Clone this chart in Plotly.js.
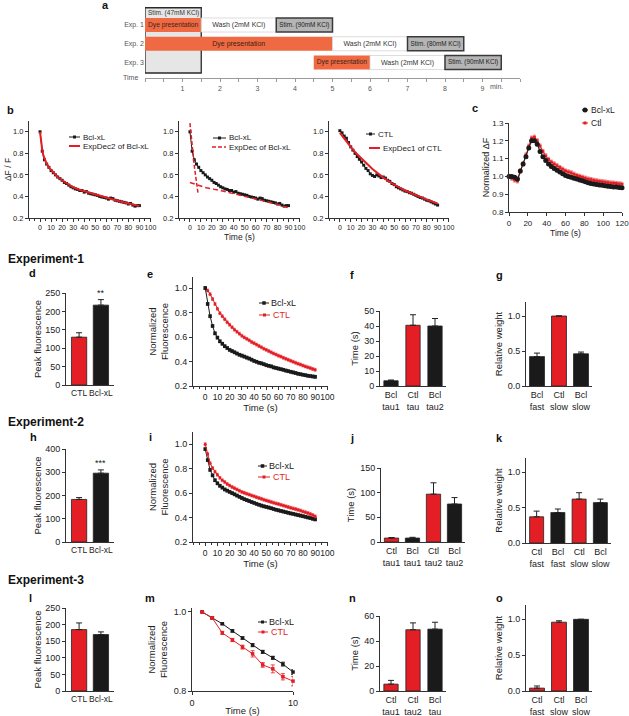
<!DOCTYPE html>
<html><head><meta charset="utf-8">
<script src="https://cdn.plot.ly/plotly-3.0.1.min.js"></script>
<style>html,body{margin:0;padding:0;background:#fff}#chart{width:629px;height:716px}</style>
</head><body><div id="chart"></div>
<script>
// ================= DATA =================
// a: protocol timeline (minutes)
const expRows = ['Exp. 1', 'Exp. 2', 'Exp. 3'];
const dyeStart = [0, 0, 4.5];
const dyeDur = [1.5, 5, 1.5];
const washStart = [1.5, 5, 6];
const washDur = [2, 2, 2];
const stimStart = [3.5, 7, 8];
const stimDur = [1.5, 1.5, 1.5];
const dyeLabel = 'Dye presentation';
const washLabel = 'Wash (2mM KCl)';
const stimLabels = ['Stim. (90mM KCl)', 'Stim. (80mM KCl)', 'Stim. (90mM KCl)'];
const stim47 = [0, 1.5];
const stim47Label = 'Stim. (47mM KCl)';
const timeTicks = [0, 1, 2, 3, 4, 5, 6, 7, 8, 9];
const timeTickText = ['', '1', '2', '3', '4', '5', '6', '7', '8', '9'];

// b: decay traces (s)
const bT = [0,2,4,6,8,10,12,14,16,18,20,22,24,26,28,30,32,34,36,38,40,42,44,46,48,50,52,54,56,58,60,62,64,66,68,70,72,74,76,78,80,82,84,86,88,90];
const bBcl = [1.00,0.82,0.74,0.70,0.67,0.64,0.62,0.60,0.58,0.565,0.55,0.53,0.52,0.505,0.49,0.48,0.47,0.465,0.455,0.455,0.44,0.445,0.43,0.425,0.42,0.415,0.41,0.40,0.395,0.39,0.385,0.375,0.385,0.38,0.365,0.36,0.355,0.35,0.345,0.34,0.33,0.335,0.32,0.31,0.315,0.315];
const bCtl = [1.01,0.99,0.96,0.94,0.90,0.86,0.83,0.80,0.77,0.745,0.72,0.69,0.66,0.64,0.61,0.595,0.585,0.60,0.59,0.575,0.58,0.57,0.55,0.54,0.52,0.51,0.49,0.48,0.47,0.46,0.45,0.445,0.435,0.43,0.42,0.41,0.40,0.39,0.385,0.375,0.365,0.36,0.35,0.34,0.33,0.32];
const bFit2T = [0,1,2,3,4,6,8,10,13,16,20,25,30,35,40,50,60,70,80,90];
const bFit2 = [1.0,0.90,0.83,0.78,0.75,0.705,0.67,0.645,0.61,0.58,0.55,0.515,0.485,0.465,0.45,0.415,0.385,0.36,0.335,0.31];
const bFastT = [0, 2, 4, 6, 7.5];
const bFast = [1.08, 0.86, 0.68, 0.53, 0.42];
const bSlowT = [0, 15, 30, 45, 60, 75, 90];
const bSlow = [0.53, 0.48, 0.45, 0.415, 0.38, 0.34, 0.295];
const bFit1T = [0,5,10,15,20,25,30,40,50,60,70,80,90];
const bFit1 = [0.99,0.92,0.86,0.80,0.75,0.70,0.655,0.575,0.51,0.455,0.41,0.37,0.335];

// c: normalized dF (s)
const cT = [0,3,6,9,12,15,18,21,24,27,30,33,36,39,42,45,48,51,54,57,60,63,66,69,72,75,78,81,84,87,90,93,96,99,102,105,108,111,114,117,120];
const cBcl = [1.0,1.0,0.995,0.985,1.03,1.07,1.11,1.16,1.20,1.20,1.18,1.14,1.11,1.09,1.07,1.055,1.045,1.035,1.025,1.015,1.005,1.0,0.995,0.99,0.985,0.98,0.975,0.97,0.965,0.96,0.958,0.955,0.952,0.95,0.948,0.945,0.943,0.94,0.94,0.938,0.936];
const cCtl = [1.0,0.99,0.98,0.975,1.03,1.07,1.12,1.17,1.215,1.22,1.20,1.17,1.14,1.115,1.095,1.08,1.07,1.06,1.05,1.04,1.03,1.025,1.02,1.012,1.005,1.0,0.995,0.99,0.985,0.982,0.978,0.975,0.972,0.97,0.968,0.965,0.963,0.962,0.96,0.958,0.957];
const cErrBcl = 0.008, cErrCtl = 0.012;

// e: Experiment-1 normalized fluorescence
const eT = bT;
const eBcl = [1.0,0.87,0.77,0.69,0.63,0.595,0.565,0.545,0.525,0.51,0.495,0.485,0.475,0.465,0.455,0.448,0.44,0.432,0.424,0.415,0.405,0.398,0.39,0.385,0.378,0.37,0.365,0.36,0.352,0.347,0.342,0.337,0.332,0.326,0.321,0.316,0.311,0.306,0.30,0.296,0.292,0.288,0.284,0.281,0.278,0.275];
const eCtl = [1.0,0.98,0.95,0.91,0.87,0.83,0.795,0.77,0.745,0.72,0.70,0.68,0.66,0.643,0.627,0.61,0.597,0.585,0.573,0.56,0.55,0.538,0.527,0.516,0.505,0.495,0.485,0.475,0.466,0.457,0.448,0.44,0.43,0.422,0.414,0.406,0.398,0.39,0.382,0.375,0.367,0.36,0.353,0.346,0.339,0.332];
const eErr = 0.012;

// i: Experiment-2 normalized fluorescence
const iT = bT;
const iBcl = [0.96,0.87,0.79,0.745,0.705,0.68,0.66,0.645,0.63,0.62,0.61,0.60,0.59,0.58,0.57,0.56,0.55,0.543,0.535,0.527,0.52,0.512,0.505,0.498,0.492,0.487,0.482,0.476,0.47,0.464,0.459,0.454,0.449,0.444,0.439,0.434,0.43,0.425,0.42,0.416,0.411,0.406,0.401,0.396,0.39,0.385];
const iCtl = [1.0,0.92,0.845,0.805,0.775,0.75,0.725,0.705,0.69,0.675,0.662,0.65,0.64,0.63,0.62,0.61,0.602,0.595,0.588,0.581,0.574,0.567,0.56,0.553,0.546,0.54,0.534,0.528,0.522,0.516,0.51,0.504,0.498,0.492,0.486,0.48,0.475,0.469,0.463,0.457,0.45,0.444,0.437,0.43,0.42,0.41];
const iErr = 0.012;

// m: Experiment-3 normalized fluorescence
const mT = [1,2,3,4,5,6,7,8,9,10];
const mBcl = [1.0,0.985,0.970,0.952,0.934,0.916,0.899,0.884,0.868,0.848];
const mBclErr = [0,0.002,0.002,0.003,0.003,0.004,0.004,0.004,0.005,0.006];
const mCtl = [1.0,0.985,0.947,0.929,0.911,0.894,0.866,0.856,0.836,0.825];
const mCtlErr = [0,0.003,0.004,0.004,0.005,0.008,0.006,0.010,0.008,0.012];

// bar panels
const dCats = ['CTL', 'Bcl-xL'];       const dVals = [130, 217];   const dErr = [12, 15];
const fCats = ['Bcl<br>tau1', 'Ctl<br>tau', 'Bcl<br>tau2'];  const fVals = [3.5, 40.5, 40];  const fErr = [0.5, 7, 5];
const gCats = ['Bcl<br>fast', 'Ctl<br>slow', 'Bcl<br>slow']; const gVals = [0.42, 1.0, 0.46]; const gErr = [0.05, 0, 0.025];
const hCats = ['CTL', 'Bcl-xL'];       const hVals = [183, 296];   const hErr = [8, 14];
const jCats = ['Ctl<br>tau1', 'Bcl<br>tau1', 'Ctl<br>tau2', 'Bcl<br>tau2']; const jVals = [8, 8, 97, 77]; const jErr = [1, 1.5, 23, 13];
const kCats = ['Ctl<br>fast', 'Bcl<br>fast', 'Ctl<br>slow', 'Bcl<br>slow']; const kVals = [0.37, 0.43, 0.62, 0.57]; const kErr = [0.08, 0.05, 0.09, 0.05];
const lCats = ['CTL', 'Bcl-xL'];       const lVals = [185, 170];   const lErr = [20, 8];
const nCats = ['Ctl<br>tau1', 'Ctl<br>tau2', 'Bcl<br>tau'];  const nVals = [5.5, 49, 49.5]; const nErr = [3, 5.5, 5.5];
const oCats = ['Ctl<br>fast', 'Ctl<br>slow', 'Bcl<br>slow']; const oVals = [0.04, 0.96, 1.0]; const oErr = [0.03, 0.02, 0];
const dStars = '**', hStars = '***';

// ================= STYLE / HELPERS =================
const W = 629, H = 716;
const F = 'Liberation Sans, Arial, Helvetica, sans-serif';
const RED = '#e31e24', BLK = '#1a1a1a', ORANGE = '#ef6942';
const xd = (a, b) => [a / W, b / W];
const yd = (top, bot) => [1 - bot / H, 1 - top / H];
const px = x => x / W, py = y => 1 - y / H;
const colorOf = c => /^c/i.test(c) ? RED : BLK;

const base = {showgrid:false, zeroline:false, showline:true, linecolor:'#333', linewidth:1,
  ticks:'outside', ticklen:3, tickwidth:1, tickcolor:'#333', automargin:false, fixedrange:true,
  tickangle:0, ticklabeloverflow:'allow'};
function ax(o) {
  const r = Object.assign({}, base, o);
  r.tickfont = Object.assign({family:F, size:9, color:'#222'}, o.tickfont || {});
  if (o.title) r.title = Object.assign({font:{family:F, size:9.5, color:'#222'}}, o.title);
  return r;
}

function bar(cats, vals, errs, xa, ya, width) {
  return {type:'bar', x:cats, y:vals, xaxis:xa, yaxis:ya, width:width,
    marker:{color:cats.map(colorOf), line:{color:'#222', width:0.8}},
    error_y:{type:'data', symmetric:false, array:errs, arrayminus:errs.map(() => 0), color:'#222', thickness:1, width:3},
    hoverinfo:'skip', cliponaxis:false};
}
function dataLine(x, y, xa, ya, color, sym, size, err) {
  const t = {type:'scatter', mode:'lines+markers', x:x, y:y, xaxis:xa, yaxis:ya,
    line:{color:color, width:1}, marker:{symbol:sym, size:size, color:color}, hoverinfo:'skip', cliponaxis:false};
  if (err !== undefined) {
    t.error_y = Array.isArray(err) ? {type:'data', array:err, color:color, thickness:0.8, width:2}
                                   : {type:'constant', value:err, color:color, thickness:0.5, width:1.5};
  }
  return t;
}
function fitLine(x, y, xa, ya, width, dash) {
  return {type:'scatter', mode:'lines', x:x, y:y, xaxis:xa, yaxis:ya,
    line:{color:RED, width:width, dash:dash || 'solid'}, hoverinfo:'skip', cliponaxis:false};
}

// ================= TRACES =================
const traces = [
  // a: timeline
  {type:'bar', orientation:'h', y:expRows, x:dyeDur, base:dyeStart, xaxis:'x', yaxis:'y', width:0.75,
   marker:{color:ORANGE, line:{color:ORANGE, width:0}}, text:expRows.map(() => dyeLabel),
   textposition:'inside', insidetextanchor:'middle', textangle:0, textfont:{family:F, size:7, color:'#3b2418'}, hoverinfo:'skip'},
  {type:'bar', orientation:'h', y:expRows, x:washDur, base:washStart, xaxis:'x', yaxis:'y', width:0.75,
   marker:{color:'#ffffff', line:{color:'#d4d4d4', width:0.8}}, text:expRows.map(() => washLabel),
   textposition:'inside', insidetextanchor:'middle', textangle:0, textfont:{family:F, size:7, color:'#333'}, hoverinfo:'skip'},
  {type:'bar', orientation:'h', y:expRows, x:stimDur, base:stimStart, xaxis:'x', yaxis:'y', width:0.75,
   marker:{color:'#b5b5b5', line:{color:'#3a3a3a', width:1.5}}, text:stimLabels,
   textposition:'inside', insidetextanchor:'middle', textangle:0, textfont:{family:F, size:7, color:'#222'}, hoverinfo:'skip'},

  // b
  dataLine(bT, bBcl, 'x2', 'y2', BLK, 'square', 3),
  fitLine(bFit2T, bFit2, 'x2', 'y2', 2),
  dataLine(bT, bBcl, 'x3', 'y3', BLK, 'square', 3),
  fitLine(bFastT, bFast, 'x3', 'y3', 1.5, '4px,2px'),
  fitLine(bSlowT, bSlow, 'x3', 'y3', 1.5, '5px,3px'),
  dataLine(bT, bCtl, 'x4', 'y4', BLK, 'square', 3),
  fitLine(bFit1T, bFit1, 'x4', 'y4', 2),

  // c
  dataLine(cT, cCtl, 'x5', 'y5', RED, 'square', 3, cErrCtl),
  dataLine(cT, cBcl, 'x5', 'y5', BLK, 'circle', 5, cErrBcl),

  // d, e, f, g
  bar(dCats, dVals, dErr, 'x6', 'y6', 0.7),
  dataLine(eT, eCtl, 'x7', 'y7', RED, 'circle', 3, eErr),
  dataLine(eT, eBcl, 'x7', 'y7', BLK, 'square', 3.5, eErr),
  bar(fCats, fVals, fErr, 'x8', 'y8', 0.65),
  bar(gCats, gVals, gErr, 'x9', 'y9', 0.68),

  // h, i, j, k
  bar(hCats, hVals, hErr, 'x10', 'y10', 0.7),
  dataLine(iT, iBcl, 'x11', 'y11', BLK, 'square', 3.5, iErr),
  dataLine(iT, iCtl, 'x11', 'y11', RED, 'circle', 3, iErr),
  bar(jCats, jVals, jErr, 'x12', 'y12', 0.68),
  bar(kCats, kVals, kErr, 'x13', 'y13', 0.66),

  // l, m, n, o
  bar(lCats, lVals, lErr, 'x14', 'y14', 0.7),
  dataLine(mT, mBcl, 'x15', 'y15', BLK, 'square', 3.5, mBclErr),
  dataLine(mT, mCtl, 'x15', 'y15', RED, 'square', 3.5, mCtlErr),
  bar(nCats, nVals, nErr, 'x16', 'y16', 0.65),
  bar(oCats, oVals, oErr, 'x17', 'y17', 0.68)
];

// ================= LAYOUT =================
const tenTicks = [0,10,20,30,40,50,60,70,80,90,100];
const peakX = {type:'category', range:[-0.6,1.6], ticks:'', tickfont:{size:8.5}};
const layout = {
  width: W, height: H, margin:{l:0, r:0, t:0, b:0},
  paper_bgcolor:'#fff', plot_bgcolor:'rgba(0,0,0,0)',
  showlegend:false, barmode:'overlay', font:{family:F, color:'#222'},
  uniformtext:{mode:'show', minsize:7},

  // a
  xaxis: ax({domain:xd(145,520), range:[0,10], anchor:'free', position:py(78),
    linecolor:'#9a9a9a', tickcolor:'#9a9a9a', linewidth:1.2, tickvals:timeTicks, ticktext:timeTickText,
    tickfont:{size:7, color:'#555'}, minor:{dtick:0.5, tick0:0, ticks:'outside', ticklen:3, tickcolor:'#9a9a9a'}}),
  yaxis: ax({domain:yd(7.75,73), type:'category', categoryorder:'array', categoryarray:expRows,
    range:[2.56,-0.92], anchor:'x', showline:false, ticks:'', tickfont:{size:7, color:'#555'}}),

  // b
  xaxis2: ax({domain:xd(29,151), range:[-10,100.5], anchor:'y2', tickvals:tenTicks, tickfont:{size:7},
    minor:{dtick:5, tick0:0, ticks:'outside', ticklen:2, tickcolor:'#333'}}),
  yaxis2: ax({domain:yd(121,218), range:[0.2,1.1], anchor:'x2', tickvals:[0.2,0.4,0.6,0.8,1.0], tickformat:'.1f',
    tickfont:{size:7.5}, title:{text:'ΔF / F', standoff:0, font:{family:F, size:8.5, color:'#222'}}}),
  xaxis3: ax({domain:xd(179,300), range:[-10,100.5], anchor:'y3', tickvals:tenTicks, tickfont:{size:7},
    minor:{dtick:5, tick0:0, ticks:'outside', ticklen:2, tickcolor:'#333'},
    title:{text:'Time (s)', standoff:3, font:{family:F, size:8.5, color:'#222'}}}),
  yaxis3: ax({domain:yd(121,218), range:[0.2,1.1], anchor:'x3', tickvals:[0.2,0.4,0.6,0.8,1.0], tickformat:'.1f', tickfont:{size:7.5}}),
  xaxis4: ax({domain:xd(329,449), range:[-10,100.5], anchor:'y4', tickvals:tenTicks, tickfont:{size:7},
    minor:{dtick:5, tick0:0, ticks:'outside', ticklen:2, tickcolor:'#333'}}),
  yaxis4: ax({domain:yd(121,218), range:[0.2,1.1], anchor:'x4', tickvals:[0.2,0.4,0.6,0.8,1.0], tickformat:'.1f', tickfont:{size:7.5}}),

  // c
  xaxis5: ax({domain:xd(509,622), range:[0,120], anchor:'y5', tickvals:[0,20,40,60,80,100,120], tickfont:{size:8},
    title:{text:'Time (s)', standoff:3, font:{family:F, size:8.5, color:'#222'}}}),
  yaxis5: ax({domain:yd(123,212), range:[0.8,1.3], anchor:'x5', dtick:0.1, tick0:0.8, tickformat:'.1f', tickfont:{size:8},
    title:{text:'Normalized ΔF', standoff:1, font:{family:F, size:9, color:'#222'}}}),

  // d
  xaxis6: ax(Object.assign({domain:xd(66,114), anchor:'y6'}, peakX)),
  yaxis6: ax({domain:yd(293,385), range:[0,250], anchor:'x6', dtick:50, title:{text:'Peak fluorescence', standoff:1}}),
  // e
  xaxis7: ax({domain:xd(193,328), range:[-10,100.5], anchor:'y7', tickvals:tenTicks, tickfont:{size:8.5},
    minor:{dtick:5, tick0:0, ticks:'outside', ticklen:2, tickcolor:'#333'},
    title:{text:'Time (s)', standoff:3}}),
  yaxis7: ax({domain:yd(277,386), range:[0.2,1.09], anchor:'x7', tickvals:[0.2,0.4,0.6,0.8,1.0], tickformat:'.1f',
    title:{text:'Normalized<br>Fluorescence', standoff:4}}),
  // f
  xaxis8: ax({domain:xd(380,446), type:'category', range:[-0.5,2.5], anchor:'y8', ticks:''}),
  yaxis8: ax({domain:yd(311,386), range:[0,50], anchor:'x8', dtick:10, title:{text:'Time (s)', standoff:3}}),
  // g
  xaxis9: ax({domain:xd(526,592), type:'category', range:[-0.5,2.5], anchor:'y9', ticks:''}),
  yaxis9: ax({domain:yd(302,386), range:[0,1.2], anchor:'x9', tickvals:[0,0.5,1.0], tickformat:'.1f', title:{text:'Relative weight', standoff:3}}),

  // h
  xaxis10: ax(Object.assign({domain:xd(66,114), anchor:'y10'}, peakX)),
  yaxis10: ax({domain:yd(449,542), range:[0,400], anchor:'x10', dtick:100, title:{text:'Peak fluorescence', standoff:1}}),
  // i
  xaxis11: ax({domain:xd(193,328), range:[-10,100.5], anchor:'y11', tickvals:tenTicks, tickfont:{size:8.5},
    minor:{dtick:5, tick0:0, ticks:'outside', ticklen:2, tickcolor:'#333'},
    title:{text:'Time (s)', standoff:3}}),
  yaxis11: ax({domain:yd(432,542), range:[0.2,1.1], anchor:'x11', tickvals:[0.2,0.4,0.6,0.8,1.0], tickformat:'.1f',
    title:{text:'Normalized<br>Fluorescence', standoff:4}}),
  // j
  xaxis12: ax({domain:xd(381,465), type:'category', range:[-0.5,3.5], anchor:'y12', ticks:''}),
  yaxis12: ax({domain:yd(468,542), range:[0,150], anchor:'x12', dtick:50, title:{text:'Time (s)', standoff:3}}),
  // k
  xaxis13: ax({domain:xd(526,611), type:'category', range:[-0.5,3.5], anchor:'y13', ticks:''}),
  yaxis13: ax({domain:yd(458,543), range:[0,1.2], anchor:'x13', tickvals:[0,0.5,1.0], tickformat:'.1f', title:{text:'Relative weight', standoff:3}}),

  // l
  xaxis14: ax(Object.assign({domain:xd(66,114), anchor:'y14'}, peakX)),
  yaxis14: ax({domain:yd(608,691), range:[0,250], anchor:'x14', dtick:50, title:{text:'Peak fluorescence', standoff:1}}),
  // m
  xaxis15: ax({domain:xd(192,293), range:[0,10], anchor:'y15', tickvals:[0,10], title:{text:'Time (s)', standoff:2}}),
  yaxis15: ax({domain:yd(608,691), range:[0.8,1.01], anchor:'x15', tickvals:[0.8,1.0], tickformat:'.1f',
    title:{text:'Normalized<br>Fluorescence', standoff:4}}),
  // n
  xaxis16: ax({domain:xd(380,446), type:'category', range:[-0.5,2.5], anchor:'y16', ticks:''}),
  yaxis16: ax({domain:yd(616,691), range:[0,60], anchor:'x16', dtick:20, title:{text:'Time (s)', standoff:3}}),
  // o
  xaxis17: ax({domain:xd(526,592), type:'category', range:[-0.5,2.5], anchor:'y17', ticks:''}),
  yaxis17: ax({domain:yd(605,691), range:[0,1.2], anchor:'x17', tickvals:[0,0.5,1.0], tickformat:'.1f', title:{text:'Relative weight', standoff:3}}),

  shapes: [], annotations: []
};

// a: grey 47mM stimulation box spanning the rows
layout.shapes.push({type:'rect', xref:'x', yref:'y domain', x0:stim47[0], x1:stim47[1], y0:0, y1:1,
  fillcolor:'#e6e6e6', line:{color:'#2a2a2a', width:1.3}, layer:'below'});
layout.annotations.push({xref:'x', yref:'y', x:(stim47[0] + stim47[1]) / 2, y:-0.65, text:stim47Label,
  showarrow:false, font:{family:F, size:6.5, color:'#333'}});
layout.annotations.push({xref:'paper', yref:'paper', x:px(140), y:py(78), xanchor:'right', yanchor:'middle',
  text:'Time', showarrow:false, font:{family:F, size:7, color:'#555'}});
layout.annotations.push({xref:'paper', yref:'paper', x:px(496), y:py(87), xanchor:'center', yanchor:'middle',
  text:'min.', showarrow:false, font:{family:F, size:7, color:'#555'}});

// significance stars
layout.annotations.push({xref:'x6', yref:'y6', x:dCats[1], y:dVals[1] + dErr[1], yanchor:'bottom', text:dStars,
  showarrow:false, font:{family:F, size:9, color:'#222'}});
layout.annotations.push({xref:'x10', yref:'y10', x:hCats[1], y:hVals[1] + hErr[1], yanchor:'bottom', text:hStars,
  showarrow:false, font:{family:F, size:9, color:'#222'}});

// panel letters and headings
const letters = [['a',105,5],['b',10,110],['c',475,108],['d',32,273],['e',150,274],['f',352,275],['g',499,275],
  ['h',33,437],['i',150,437],['j',352,438],['k',499,438],['l',30,598],['m',150,598],['n',352,598],['o',499,598]];
letters.forEach(([t, x, y]) => layout.annotations.push({xref:'paper', yref:'paper', x:px(x), y:py(y),
  xanchor:'center', yanchor:'middle', text:'<b>' + t + '</b>', showarrow:false, font:{family:F, size:11, color:'#111'}}));
[['Experiment-1',259],['Experiment-2',422],['Experiment-3',580]].forEach(([t, y]) =>
  layout.annotations.push({xref:'paper', yref:'paper', x:px(6), y:py(y), xanchor:'left', yanchor:'middle',
    text:'<b>' + t + '</b>', showarrow:false, font:{family:F, size:12, color:'#111'}}));

// hand-placed legends (line sample + marker + text)
const legends = [
  {x0:69, x1:80, y:137, c:BLK, w:1, mk:'rect', ms:3, t:'Bcl-xL', tx:82, s:8},
  {x0:69, x1:80, y:146, c:RED, w:2, t:'ExpDec2 of Bcl-xL', tx:82, s:8},
  {x0:213, x1:226, y:138, c:BLK, w:1, mk:'rect', ms:3, t:'Bcl-xL', tx:228, s:8},
  {x0:212, x1:226, y:147, c:RED, w:1.5, dash:'4px,2px', t:'ExpDec of Bcl-xL', tx:228, s:8},
  {x0:366, x1:375, y:134, c:BLK, w:1, mk:'rect', ms:3, t:'CTL', tx:377, s:8},
  {x0:369, x1:380, y:148, c:RED, w:2, t:'ExpDec1 of CTL', tx:382, s:8},
  {x0:582, x1:588, y:110, c:BLK, w:1, mk:'circle', ms:5, t:'Bcl-xL', tx:590, s:8.5},
  {x0:582, x1:588, y:123, c:RED, w:1, mk:'rect', ms:3, t:'Ctl', tx:590, s:8.5},
  {x0:259, x1:269, y:303, c:BLK, w:1, mk:'rect', ms:3.5, t:'Bcl-xL', tx:270, s:9},
  {x0:259, x1:270, y:315, c:RED, w:1, mk:'rect', ms:3, t:'CTL', tx:272, s:9, tc:RED},
  {x0:258, x1:267, y:466, c:BLK, w:1, mk:'rect', ms:3.5, t:'Bcl-xL', tx:268, s:9},
  {x0:258, x1:270, y:477, c:RED, w:1, mk:'rect', ms:3, t:'CTL', tx:272, s:9, tc:RED},
  {x0:258, x1:267, y:622, c:BLK, w:1, mk:'rect', ms:3, t:'Bcl-xL', tx:268, s:9},
  {x0:258, x1:268, y:632, c:RED, w:1, mk:'rect', ms:3, t:'CTL', tx:270, s:9, tc:RED}
];
legends.forEach(L => {
  layout.shapes.push({type:'line', xref:'paper', yref:'paper', x0:px(L.x0), x1:px(L.x1), y0:py(L.y), y1:py(L.y),
    line:{color:L.c, width:L.w, dash:L.dash || 'solid'}});
  if (L.mk) {
    const cx = (L.x0 + L.x1) / 2, h = L.ms / 2;
    layout.shapes.push({type:L.mk, xref:'paper', yref:'paper', x0:px(cx - h), x1:px(cx + h), y0:py(L.y + h), y1:py(L.y - h),
      fillcolor:L.c, line:{color:L.c, width:0}});
  }
  layout.annotations.push({xref:'paper', yref:'paper', x:px(L.tx), y:py(L.y), xanchor:'left', yanchor:'middle',
    text:L.t, showarrow:false, font:{family:F, size:L.s, color:L.tc || '#222'}, borderpad:0});
});

Plotly.newPlot('chart', traces, layout, {displayModeBar:false, staticPlot:true});
</script>
</body></html>
